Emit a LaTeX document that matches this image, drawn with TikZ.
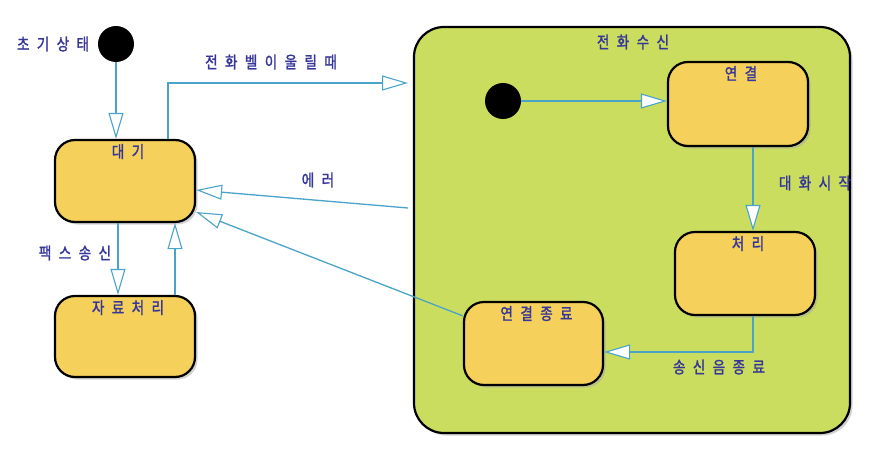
\documentclass[tikz,border=0pt]{standalone}
\usepackage{fontspec}
\newfontfamily\kr[LetterSpace=45,FakeBold=1.5,FakeStretch=0.82]{Noto Sans CJK KR}
\usetikzlibrary{arrows.meta,shadows}
\definecolor{boxfill}{HTML}{F5D05A}
\definecolor{greenfill}{HTML}{CBDD5E}
\definecolor{linecol}{HTML}{4AA3C8}
\definecolor{txtcol}{HTML}{35359A}
\tikzset{
  statebox/.style={draw=black, line width=2.2pt, fill=boxfill, rounded corners=20pt,
    minimum width=140pt, minimum height=82pt, inner sep=0pt,
    drop shadow={shadow xshift=2.5pt, shadow yshift=-2.5pt, fill=black!35}},
  superbox/.style={draw=black, line width=2.2pt, fill=greenfill, rounded corners=30pt,
    minimum width=436pt, minimum height=406pt, inner sep=0pt,
    drop shadow={shadow xshift=2.5pt, shadow yshift=-2.5pt, fill=black!35}},
  initstate/.style={circle, fill=black, minimum size=36pt, inner sep=0pt},
  lbl/.style={text=txtcol, font=\kr\fontsize{16.5}{18}\selectfont, inner sep=1pt},
  trans/.style={draw=linecol, line width=1.3pt,
    -{Triangle[length=26pt,width=15pt,fill=white,line width=1.1pt]}},
  boxtitle/.style={label={[lbl,anchor=north,yshift=-4pt,xshift=3pt]north:#1}}
}
\begin{document}
\begin{tikzpicture}[x=1pt,y=-1pt]
\useasboundingbox (0,0) rectangle (881,450);
% composite state
\node[superbox] (green) at (632,230) {};
\node[lbl] (greent) at (633,42) {전화수신};
% states
\node[statebox, boxtitle=대기] (wait) at (125,181) {};
\node[statebox, boxtitle=자료처리, minimum height=81pt] (proc) at (125,336.5) {};
\node[statebox, boxtitle=연결, minimum height=84pt] (conn) at (738,104) {};
\node[statebox, boxtitle=처리, minimum height=83pt] (handle) at (745,273.5) {};
\node[statebox, boxtitle=연결종료, minimum width=139pt, minimum height=83pt] (endc) at (533.5,343.5) {};
% initial states
\node[initstate] (init1) at (116,44) {};
\node[initstate] (init2) at (503,101) {};
% free ends at the composite state
\coordinate (gw1) at (408,83);
\coordinate (gw2) at (408,208);
% labels
\node[lbl] (l1) at (53,44) {초기상태};
\node[lbl] (l2) at (271,62) {전화벨이울릴때};
\node[lbl] (l3) at (318,180) {에러};
\node[lbl] (l4) at (75,253) {팩스송신};
\node[lbl] (l5) at (815,183) {대화시작};
\node[lbl] (l6) at (719,367) {송신음종료};
% transitions
\draw[trans] (init1.south) -- (init1.south |- wait.north);
\draw[trans] ([xshift=-7pt]wait.south) -- ([xshift=-7pt]proc.north);
\draw[trans] ([xshift=50pt]proc.north) -- ([xshift=50pt]wait.south);
\draw[trans] ([xshift=43pt]wait.north) |- (gw1);
\draw[trans] (gw2) -- ([yshift=-9pt]wait.east);
\draw[trans] ([yshift=-15pt]endc.north west) -- ([yshift=-31pt]wait.east);
\draw[trans] (init2.east) -- (conn.west |- init2);
\draw[trans] ([xshift=15pt]conn.south) -- ([xshift=8pt]handle.north);
\draw[trans] ([xshift=8pt]handle.south) |- ([yshift=-8.5pt]endc.east);
\end{tikzpicture}
\end{document}
